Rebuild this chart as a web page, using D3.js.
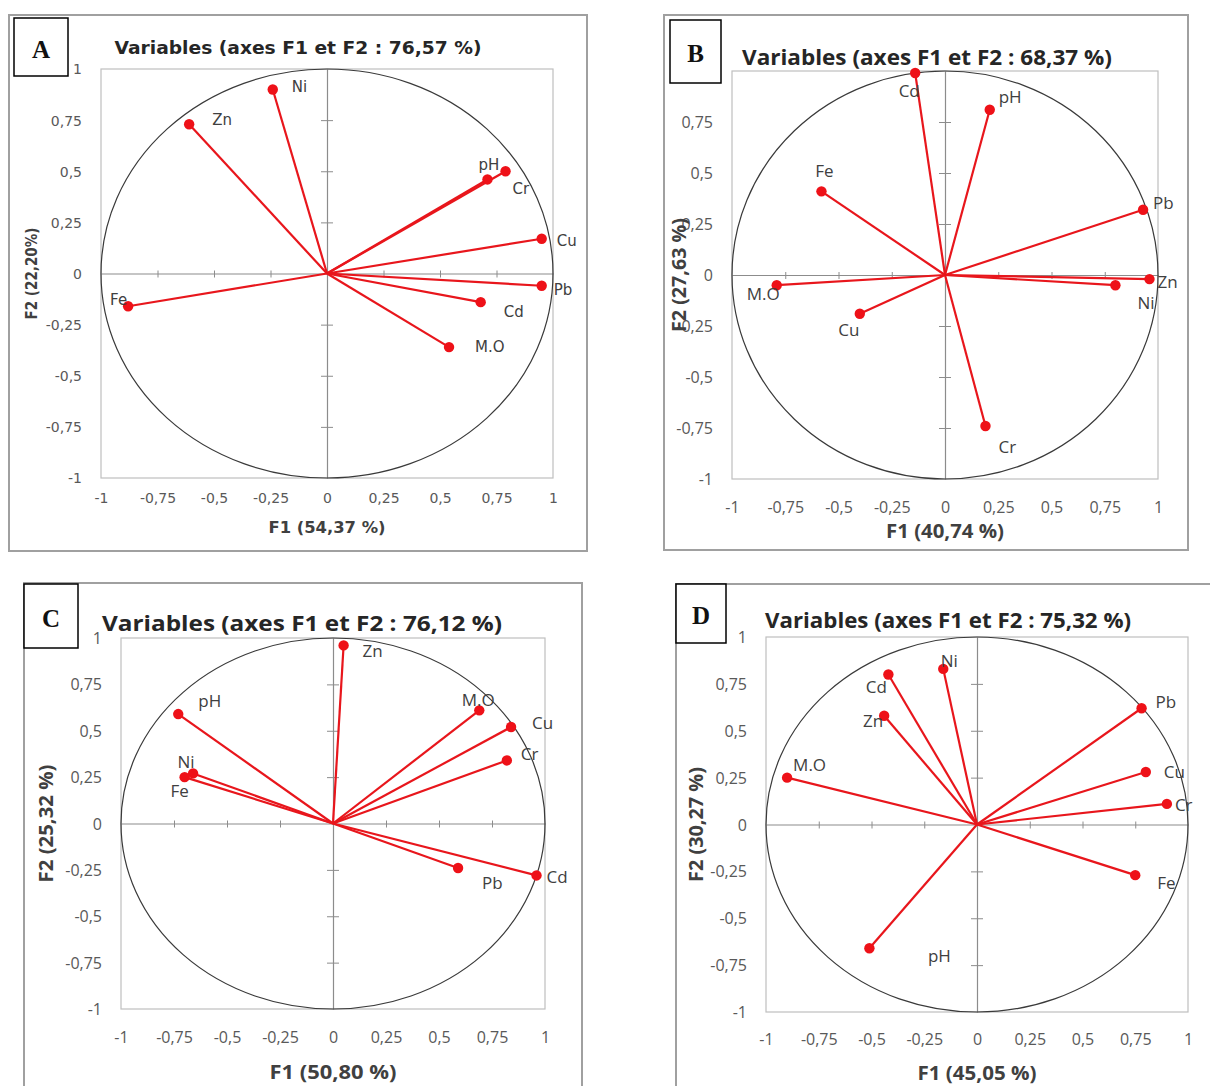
<!DOCTYPE html>
<html>
<head>
<meta charset="utf-8">
<script src="https://cdn.jsdelivr.net/npm/d3@7"></script>
<style>
  body { margin: 0; background: #fff; }
</style>
</head>
<body>
<svg id="chart" width="1210" height="1086"></svg>
<script>
// Correlation circles, values
var varsA = ['Ni', 'Zn', 'pH', 'Cr', 'Cu', 'Pb', 'Cd', 'M.O', 'Fe']
var f1A = [-0.24, -0.61, 0.71, 0.79, 0.95, 0.95, 0.68, 0.54, -0.88]
var f2A = [0.9, 0.73, 0.46, 0.5, 0.17, -0.06, -0.14, -0.36, -0.16]

var varsB = ['Cd', 'pH', 'Fe', 'Pb', 'Zn', 'Ni', 'M.O', 'Cu', 'Cr']
var f1B = [-0.14, 0.21, -0.58, 0.93, 0.96, 0.8, -0.79, -0.4, 0.19]
var f2B = [0.99, 0.81, 0.41, 0.32, -0.02, -0.05, -0.05, -0.19, -0.74]

var varsC = ['Zn', 'M.O', 'Cu', 'Cr', 'pH', 'Ni', 'Fe', 'Pb', 'Cd']
var f1C = [0.05, 0.69, 0.84, 0.82, -0.73, -0.66, -0.7, 0.59, 0.96]
var f2C = [0.96, 0.61, 0.52, 0.34, 0.59, 0.27, 0.25, -0.24, -0.28]

var varsD = ['Ni', 'Cd', 'Zn', 'M.O', 'Pb', 'Cu', 'Cr', 'Fe', 'pH']
var f1D = [-0.16, -0.42, -0.44, -0.9, 0.78, 0.8, 0.9, 0.75, -0.51]
var f2D = [0.83, 0.8, 0.58, 0.25, 0.62, 0.28, 0.11, -0.27, -0.66]

var letters = ['A', 'B', 'C', 'D']
var titles = [
  'Variables (axes F1 et F2 : 76,57 %)',
  'Variables (axes F1 et F2 : 68,37 %)',
  'Variables (axes F1 et F2 : 76,12 %)',
  'Variables (axes F1 et F2 : 75,32 %)'
]
var xTitles = ['F1 (54,37 %)', 'F1 (40,74 %)', 'F1 (50,80 %)', 'F1 (45,05 %)']
var yTitles = ['F2 (22,20%)', 'F2 (27,63 %)', 'F2 (25,32 %)', 'F2 (30,27 %)']
var tickValues = [-1, -0.75, -0.5, -0.25, 0, 0.25, 0.5, 0.75, 1]
var innerTicks = [-0.75, -0.5, -0.25, 0.25, 0.5, 0.75]

// label nudges (px from the point): [dx, dy, anchor]
var nudgeA = {
  Ni: [19, -3, 'start'], Zn: [23, -4, 'start'], pH: [-9, -15, 'start'],
  Cr: [7, 17, 'start'], Cu: [15, 2, 'start'], Pb: [12, 4, 'start'],
  Cd: [23, 10, 'start'], 'M.O': [26, 0, 'start'], Fe: [-18, -6, 'start']
}
var nudgeB = {
  Cd: [-6, 18, 'middle'], pH: [9, -13, 'start'], Fe: [3, -20, 'middle'],
  Pb: [10, -7, 'start'], Zn: [8, 3, 'start'], Ni: [22, 18, 'start'],
  'M.O': [-30, 9, 'start'], Cu: [-11, 16, 'middle'], Cr: [13, 21, 'start']
}
var nudgeC = {
  Zn: [19, 6, 'start'], 'M.O': [-1, -10, 'middle'], Cu: [21, -4, 'start'],
  Cr: [14, -6, 'start'], pH: [20, -13, 'start'], Ni: [-7, -11, 'middle'],
  Fe: [-5, 14, 'middle'], Pb: [24, 15, 'start'], Cd: [10, 2, 'start']
}
var nudgeD = {
  Ni: [6, -8, 'middle'], Cd: [-12, 13, 'middle'], Zn: [-11, 5, 'middle'],
  'M.O': [6, -13, 'start'], Pb: [14, -6, 'start'], Cu: [18, 0, 'start'],
  Cr: [8, 1, 'start'], Fe: [22, 8, 'start'], pH: [70, 8, 'middle']
}

var svg = d3.select('#chart')

var fmt = function(v) {
  return String(v).replace('.', ',')
}

var panels = [
  {
    vars: varsA, f1: f1A, f2: f2A, nudge: nudgeA,
    frame: [9, 15, 587, 551], box: [14, 18, 68, 76], plot: [101, 69, 553, 478],
    title: [298, 48, 367, 18], xTitle: [527, 117, 16], yTitle: [31, 92, 16],
    font: 'DejaVu Sans', tickSize: 14, labelSize: 15, xLabOff: 20
  },
  {
    vars: varsB, f1: f1B, f2: f2B, nudge: nudgeB,
    frame: [664, 15, 1188, 550], box: [670, 20, 721, 83], plot: [732, 71, 1158, 479],
    title: [927, 57, 370, 22], xTitle: [531, 118, 20], yTitle: [679, 114, 20],
    font: 'Open Sans', tickSize: 16, labelSize: 17, xLabOff: 28
  },
  {
    vars: varsC, f1: f1C, f2: f2C, nudge: nudgeC,
    frame: [24, 583, 582, 1100], box: [24, 584, 78, 648], plot: [121, 638, 545, 1009],
    title: [302, 623, 400, 22], xTitle: [1072, 127, 20], yTitle: [46, 118, 20],
    font: 'Open Sans', tickSize: 16, labelSize: 17, xLabOff: 28
  },
  {
    vars: varsD, f1: f1D, f2: f2D, nudge: nudgeD,
    frame: [676, 584, 1220, 1100], box: [676, 584, 726, 643], plot: [766, 637, 1188, 1012],
    title: [948, 620, 366, 22], xTitle: [1073, 119, 20], yTitle: [696, 115, 20],
    font: 'Open Sans', tickSize: 16, labelSize: 17, xLabOff: 27
  }
]

panels.forEach(function(p, k) {
  var g = svg.append('g').attr('class', 'panel')

  // outer frame
  g.append('rect')
    .attr('x', p.frame[0])
    .attr('y', p.frame[1])
    .attr('width', p.frame[2] - p.frame[0])
    .attr('height', p.frame[3] - p.frame[1])
    .attr('fill', '#fff')
    .attr('stroke', '#a0a0a0')
    .attr('stroke-width', 2)

  var x = d3.scaleLinear().domain([-1, 1]).range([p.plot[0], p.plot[2]])
  var y = d3.scaleLinear().domain([-1, 1]).range([p.plot[3], p.plot[1]])

  // plot area border
  g.append('rect')
    .attr('x', x(-1))
    .attr('y', y(1))
    .attr('width', x(1) - x(-1))
    .attr('height', y(-1) - y(1))
    .attr('fill', 'none')
    .attr('stroke', '#bfbfbf')
    .attr('stroke-width', 1.2)

  // zero lines with their small ticks
  var xZero = d3.axisBottom(x).tickValues(innerTicks).tickSizeOuter(0).tickFormat('')
  g.append('g')
    .attr('transform', 'translate(0,' + y(0) + ')')
    .call(xZero)
    .call(a => a.select('.domain').attr('stroke', '#8c8c8c').attr('stroke-width', 1.2))
    .call(a => a.selectAll('.tick line').attr('y1', -3).attr('y2', 4).attr('stroke', '#8c8c8c'))

  var yZero = d3.axisLeft(y).tickValues(innerTicks).tickSizeOuter(0).tickFormat('')
  g.append('g')
    .attr('transform', 'translate(' + x(0) + ',0)')
    .call(yZero)
    .call(a => a.select('.domain').attr('stroke', '#8c8c8c').attr('stroke-width', 1.2))
    .call(a => a.selectAll('.tick line').attr('x1', -6).attr('x2', 6).attr('stroke', '#8c8c8c'))

  // unit circle
  g.append('ellipse')
    .attr('cx', x(0))
    .attr('cy', y(0))
    .attr('rx', x(1) - x(0))
    .attr('ry', y(0) - y(1))
    .attr('fill', 'none')
    .attr('stroke', '#3a3a3a')
    .attr('stroke-width', 1.2)

  // tick labels
  var xLabels = d3.axisBottom(x).tickValues(tickValues).tickSize(0).tickFormat(fmt)
  g.append('g')
    .attr('transform', 'translate(0,' + y(-1) + ')')
    .call(xLabels)
    .call(a => a.select('.domain').remove())
    .selectAll('text')
    .attr('y', p.xLabOff)
    .attr('dy', '0.35em')
    .attr('font-family', p.font)
    .attr('font-size', p.tickSize)
    .attr('fill', '#595959')

  var yLabels = d3.axisLeft(y).tickValues(tickValues).tickSize(0).tickPadding(19).tickFormat(fmt)
  g.append('g')
    .attr('transform', 'translate(' + x(-1) + ',0)')
    .call(yLabels)
    .call(a => a.select('.domain').remove())
    .selectAll('text')
    .attr('dy', '0.35em')
    .attr('font-family', p.font)
    .attr('font-size', p.tickSize)
    .attr('fill', '#595959')

  var points = p.vars.map(function(v, i) {
    return { name: v, f1: p.f1[i], f2: p.f2[i] }
  })

  // vectors
  g.selectAll('.vector')
    .data(points)
    .enter()
    .append('line')
    .attr('class', 'vector')
    .attr('x1', x(0))
    .attr('y1', y(0))
    .attr('x2', d => x(d.f1))
    .attr('y2', d => y(d.f2))
    .attr('stroke', '#e8161c')
    .attr('stroke-width', 2.2)

  g.selectAll('.dot')
    .data(points)
    .enter()
    .append('circle')
    .attr('class', 'dot')
    .attr('cx', d => x(d.f1))
    .attr('cy', d => y(d.f2))
    .attr('r', 5.2)
    .attr('fill', '#ee1118')

  g.selectAll('.var-label')
    .data(points)
    .enter()
    .append('text')
    .attr('class', 'var-label')
    .attr('x', d => x(d.f1) + p.nudge[d.name][0])
    .attr('y', d => y(d.f2) + p.nudge[d.name][1])
    .attr('dy', '0.35em')
    .attr('text-anchor', d => p.nudge[d.name][2])
    .attr('font-family', p.font)
    .attr('font-size', p.labelSize)
    .attr('fill', '#404040')
    .text(d => d.name)

  // titles
  g.append('text')
    .attr('x', p.title[0])
    .attr('y', p.title[1])
    .attr('dy', '0.35em')
    .attr('text-anchor', 'middle')
    .attr('font-family', p.font)
    .attr('font-weight', 'bold')
    .attr('font-size', p.title[3])
    .attr('textLength', p.title[2])
    .attr('lengthAdjust', 'spacingAndGlyphs')
    .attr('fill', '#262626')
    .text(titles[k])

  g.append('text')
    .attr('x', x(0))
    .attr('y', p.xTitle[0])
    .attr('dy', '0.35em')
    .attr('text-anchor', 'middle')
    .attr('font-family', p.font)
    .attr('font-weight', 'bold')
    .attr('font-size', p.xTitle[2])
    .attr('textLength', p.xTitle[1])
    .attr('lengthAdjust', 'spacingAndGlyphs')
    .attr('fill', '#404040')
    .text(xTitles[k])

  g.append('text')
    .attr('transform', 'translate(' + p.yTitle[0] + ',' + y(0) + ') rotate(-90)')
    .attr('dy', '0.35em')
    .attr('text-anchor', 'middle')
    .attr('font-family', p.font)
    .attr('font-weight', 'bold')
    .attr('font-size', p.yTitle[2])
    .attr('textLength', p.yTitle[1])
    .attr('lengthAdjust', 'spacingAndGlyphs')
    .attr('fill', '#404040')
    .text(yTitles[k])

  // panel letter box, drawn last so it covers what sits under it
  g.append('rect')
    .attr('x', p.box[0])
    .attr('y', p.box[1])
    .attr('width', p.box[2] - p.box[0])
    .attr('height', p.box[3] - p.box[1])
    .attr('fill', '#fff')
    .attr('stroke', '#000')
    .attr('stroke-width', 1.5)

  g.append('text')
    .attr('x', (p.box[0] + p.box[2]) / 2)
    .attr('y', (p.box[1] + p.box[3]) / 2 + 2)
    .attr('dy', '0.35em')
    .attr('text-anchor', 'middle')
    .attr('font-family', 'Liberation Serif')
    .attr('font-weight', 'bold')
    .attr('font-size', 25)
    .attr('fill', '#111')
    .text(letters[k])
})
</script>
</body>
</html>
